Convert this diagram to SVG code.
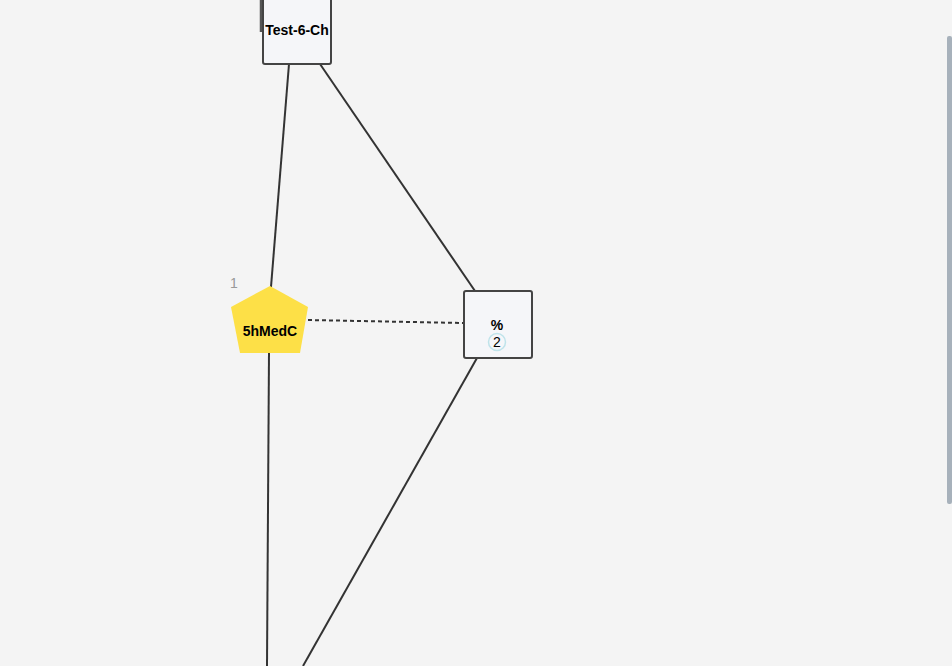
<svg xmlns="http://www.w3.org/2000/svg" width="952" height="666" viewBox="0 0 952 666">
<style>
.edge{stroke:#333;stroke-width:2;fill:none}
.dash{stroke-dasharray:4 3}
.box{fill:#f5f6f9;stroke:#444;stroke-width:2}
.lbl{font-family:"Liberation Sans",Arial,sans-serif;font-weight:bold;font-size:14px;fill:#000;text-anchor:middle}
</style>
<rect width="952" height="666" fill="#f4f4f4"/>
<rect x="947" y="36" width="5" height="468" rx="2" fill="#a7b1bb"/>
<g id="connectors">
<line class="edge" x1="289" y1="64" x2="271" y2="287"/>
<line class="edge" x1="320" y1="64" x2="475" y2="291"/>
<line class="edge dash" x1="308" y1="320" x2="463" y2="323"/>
<line class="edge" x1="269" y1="352" x2="267" y2="666"/>
<line class="edge" x1="477" y1="358" x2="303" y2="666"/>
</g>
<g id="node-test6ch">
<line x1="261" y1="0" x2="261" y2="32" stroke="#555" stroke-width="2.5"/>
<rect class="box" x="263" y="-4" width="68" height="68" rx="2"/>
<text class="lbl" x="297" y="35">Test-6-Ch</text>
</g>
<g id="node-5hmedc">
<polygon points="270,286 308,307 300,353 240,353 231,307" fill="#fde047"/>
<text x="234" y="288" font-family="Liberation Sans,Arial,sans-serif" font-size="14" fill="#999" text-anchor="middle">1</text>
<text class="lbl" x="270" y="336">5hMedC</text>
</g>
<g id="node-percent">
<rect class="box" x="464" y="291" width="68" height="67" rx="2"/>
<text class="lbl" x="497" y="330">%</text>
<circle cx="497" cy="342" r="8.5" fill="none" stroke="#bfe3ea" stroke-width="1.5"/>
<text x="497" y="347" font-family="Liberation Sans,Arial,sans-serif" font-size="14" fill="#000" text-anchor="middle">2</text>
</g>
</svg>
